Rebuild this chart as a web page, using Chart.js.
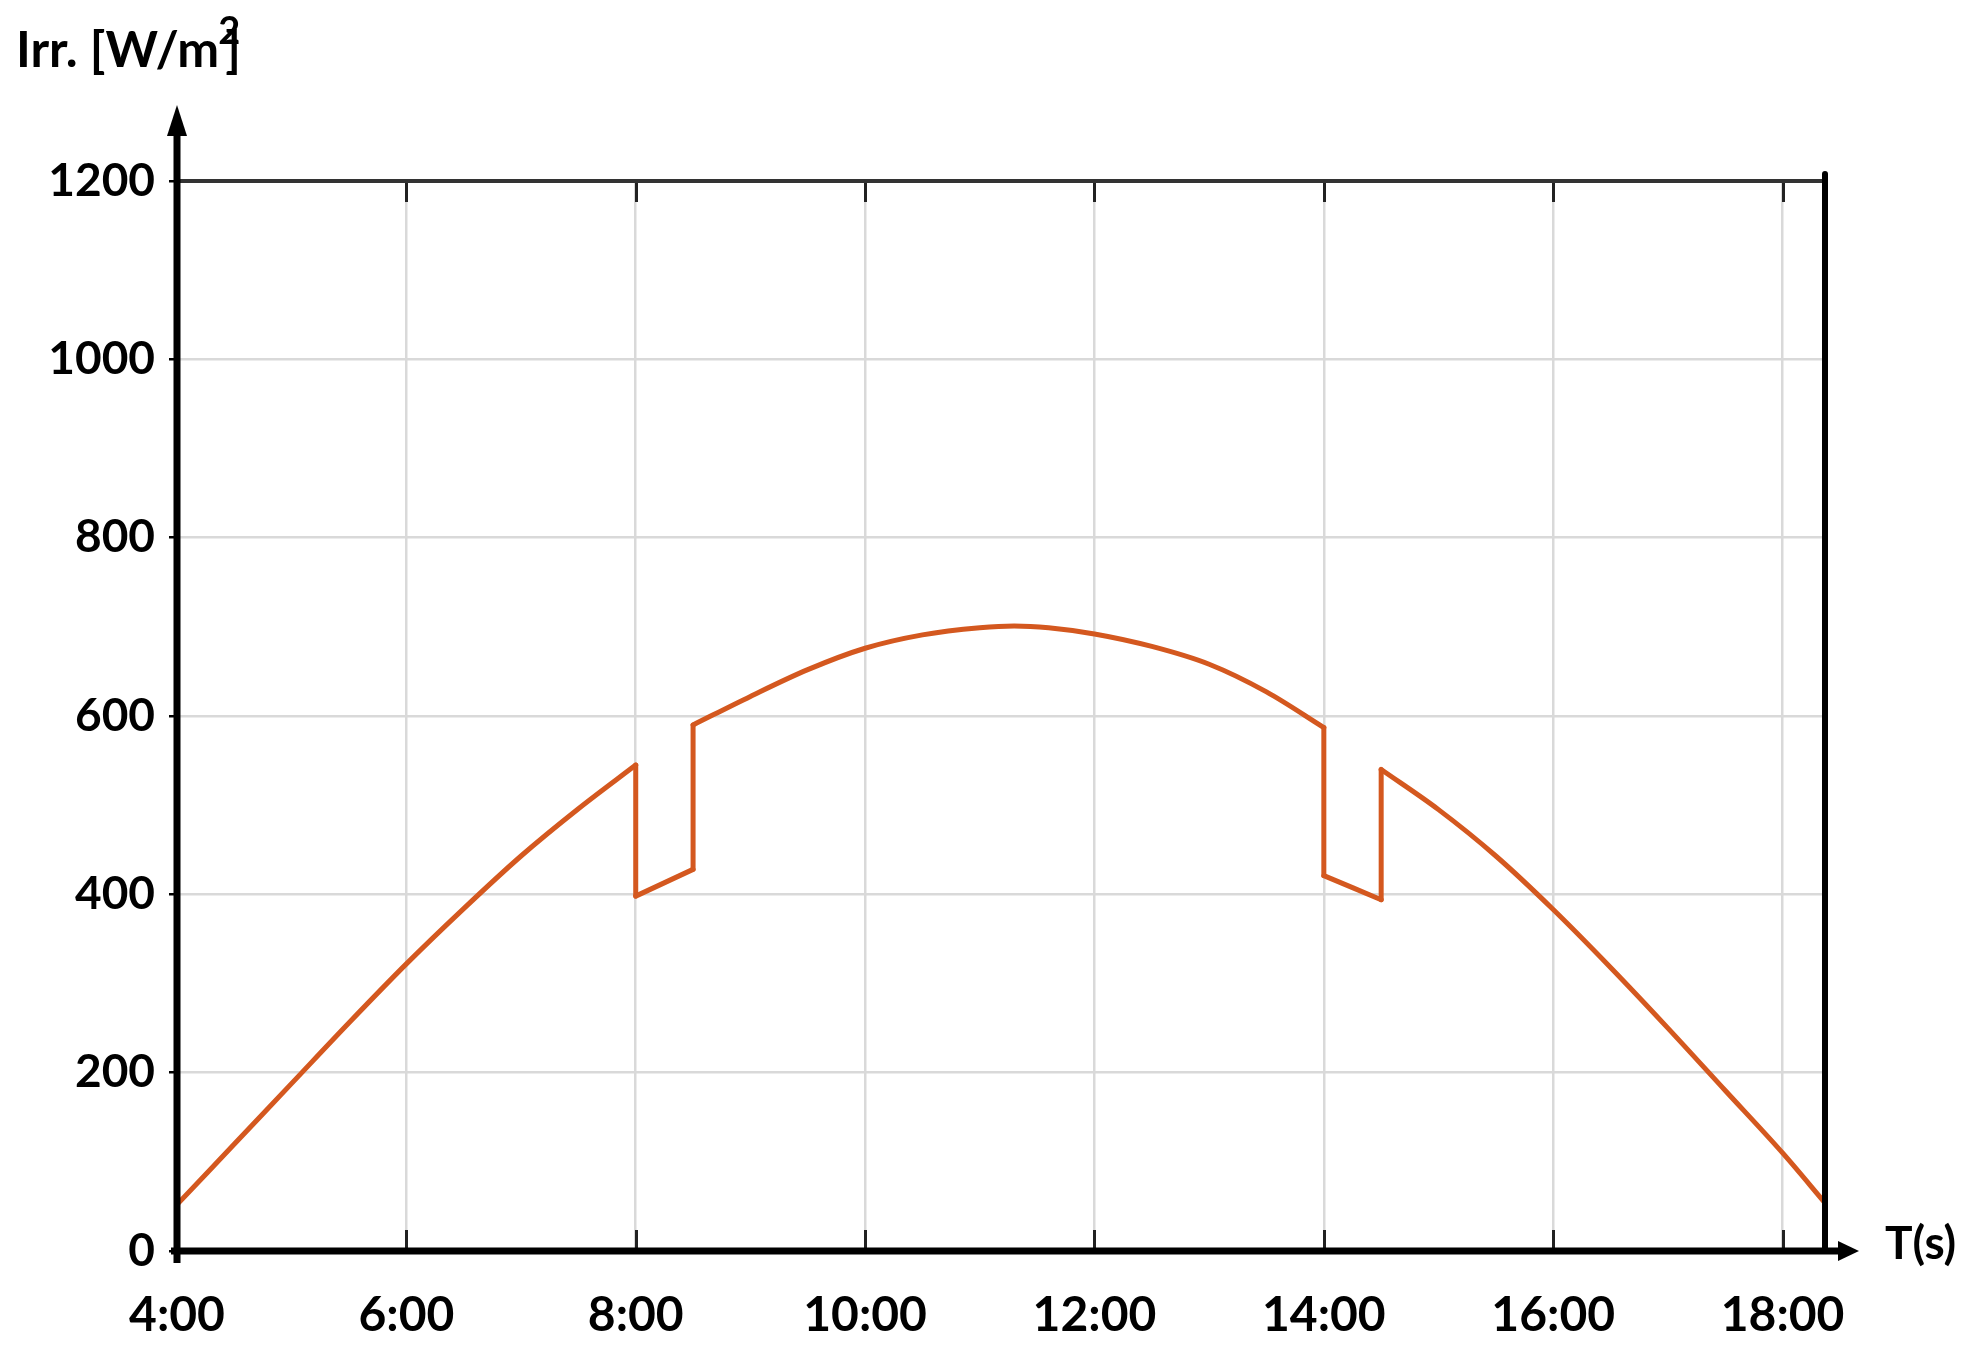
<!DOCTYPE html>
<html>
<head>
<meta charset="utf-8">
<title>Irradiance</title>
<script src="https://cdn.jsdelivr.net/npm/chart.js@4.4.1/dist/chart.umd.min.js"></script>
<style>
  html, body { margin: 0; padding: 0; background: #fff; }
  canvas { display: block; }
</style>
</head>
<body>
<canvas id="irrChart" width="1971" height="1355"></canvas>
<script>
// values (time in hours, irradiance in W/m2)
const hours = [4.0, 4.5, 5.0, 5.5, 6.0, 6.5, 7.0, 7.5, 8.0, 8.0, 8.5, 8.5, 9.0, 9.5, 10.0, 10.5, 11.0, 11.3, 11.6, 12.0,
               12.5, 13.0, 13.5, 14.0, 14.0, 14.5, 14.5, 15.0, 15.5, 16.0, 16.5, 17.0, 17.5, 18.0, 18.37];
const irradiance = [52, 120, 188, 256, 322, 384, 443, 496, 545, 398, 428, 590, 622, 652, 676, 691, 699, 701, 699, 692,
                    678, 658, 627, 587, 421, 394, 540, 495, 443, 383, 318, 250, 180, 110, 54];
const yTicks = [0, 200, 400, 600, 800, 1000, 1200];
const xTicks = [4, 6, 8, 10, 12, 14, 16, 18];

const lineColor = '#d4581f';
const FONT = 'Lato, "Open Sans", sans-serif';

// split the series at the sudden jumps so the smooth parts can be curved
const points = hours.map((h, i) => ({ x: h, y: irradiance[i] }));
const runs = [[points[0]]];
const jumps = [];
for (let i = 1; i < points.length; i++) {
    if (points[i].x === points[i - 1].x) {
        jumps.push([points[i - 1], points[i]]);
        runs.push([points[i]]);
    } else {
        runs[runs.length - 1].push(points[i]);
    }
}

const lineStyle = {
    borderColor: lineColor,
    borderWidth: 5,
    borderCapStyle: 'round',
    borderJoinStyle: 'round',
    pointRadius: 0,
    fill: false
};

const datasets = [
    ...runs.map(r => ({ ...lineStyle, data: r, cubicInterpolationMode: 'monotone' })),
    ...jumps.map(j => ({ ...lineStyle, data: j, tension: 0 }))
];

// axes with arrows, frame, inner ticks and the axis titles
const axesPlugin = {
    id: 'axesPlugin',
    afterDraw(chart) {
        const ctx = chart.ctx;
        const area = chart.chartArea;
        const xs = chart.scales.x;
        ctx.save();

        // short ticks inside the frame
        ctx.strokeStyle = '#222';
        ctx.lineWidth = 3;
        xTicks.forEach(t => {
            const px = Math.round(xs.getPixelForValue(t)) + 0.5;
            ctx.beginPath();
            ctx.moveTo(px, area.top);
            ctx.lineTo(px, area.top + 21);
            ctx.moveTo(px, area.bottom);
            ctx.lineTo(px, area.bottom - 21);
            ctx.stroke();
        });

        // top border
        ctx.strokeStyle = '#333';
        ctx.lineWidth = 4;
        ctx.beginPath();
        ctx.moveTo(area.left, area.top);
        ctx.lineTo(area.right, area.top);
        ctx.stroke();

        // right border
        ctx.strokeStyle = '#000';
        ctx.lineWidth = 6;
        ctx.lineCap = 'round';
        ctx.beginPath();
        ctx.moveTo(area.right, area.top - 7);
        ctx.lineTo(area.right, area.bottom);
        ctx.stroke();
        ctx.lineCap = 'butt';

        // y axis with arrow
        ctx.lineWidth = 7;
        ctx.beginPath();
        ctx.moveTo(area.left, area.bottom + 12);
        ctx.lineTo(area.left, 130);
        ctx.stroke();
        ctx.fillStyle = '#000';
        ctx.beginPath();
        ctx.moveTo(area.left, 105);
        ctx.lineTo(area.left - 10, 136);
        ctx.lineTo(area.left + 10, 136);
        ctx.closePath();
        ctx.fill();

        // x axis with arrow
        ctx.beginPath();
        ctx.moveTo(area.left - 6, area.bottom);
        ctx.lineTo(1842, area.bottom);
        ctx.stroke();
        ctx.beginPath();
        ctx.moveTo(1859, area.bottom);
        ctx.lineTo(1838, area.bottom - 10);
        ctx.lineTo(1838, area.bottom + 10);
        ctx.closePath();
        ctx.fill();

        // axis titles
        ctx.fillStyle = '#000';
        ctx.textBaseline = 'alphabetic';
        ctx.textAlign = 'left';
        ctx.font = 'bold 50px ' + FONT;
        const base = 'Irr. [W/m';
        ctx.fillText(base, 16, 67);
        const w = ctx.measureText(base).width;
        ctx.font = 'bold 38px ' + FONT;
        ctx.fillText('2', 16 + w - 1, 44);
        ctx.font = 'bold 50px ' + FONT;
        ctx.fillText(']', 16 + w + 6, 67);

        ctx.font = 'bold 46px ' + FONT;
        ctx.textBaseline = 'middle';
        ctx.fillText('T(s)', 1885, 1244);

        ctx.restore();
    }
};

const ctx = document.getElementById('irrChart').getContext('2d');

const irrChart = new Chart(ctx, {
    type: 'line',
    data: { datasets: datasets },
    options: {
        responsive: false,
        animation: false,
        devicePixelRatio: 1,
        layout: {
            padding: { top: 181, right: 146, left: 0, bottom: 0 }
        },
        plugins: {
            legend: { display: false },
            tooltip: { enabled: false }
        },
        scales: {
            x: {
                type: 'linear',
                min: 4,
                max: 18.37,
                afterFit(scale) { scale.height = 104; },
                afterBuildTicks(scale) { scale.ticks = xTicks.map(v => ({ value: v })); },
                border: { display: false },
                grid: {
                    color: '#d9d9d9',
                    lineWidth: 2.5,
                    drawTicks: false
                },
                ticks: {
                    color: '#000',
                    padding: 36,
                    maxRotation: 0,
                    autoSkip: false,
                    font: { family: FONT, size: 48, weight: 'bold' },
                    callback: v => v + ':00'
                }
            },
            y: {
                type: 'linear',
                min: 0,
                max: 1200,
                afterFit(scale) { scale.width = 177; },
                afterBuildTicks(scale) { scale.ticks = yTicks.map(v => ({ value: v })); },
                border: { display: false },
                grid: {
                    color: '#d9d9d9',
                    lineWidth: 2.5,
                    tickColor: '#000',
                    tickLength: 8
                },
                ticks: {
                    color: '#000',
                    padding: 14,
                    font: { family: FONT, size: 46, weight: 'bold' },
                    callback: v => String(v)
                }
            }
        }
    },
    plugins: [axesPlugin]
});
</script>
</body>
</html>
